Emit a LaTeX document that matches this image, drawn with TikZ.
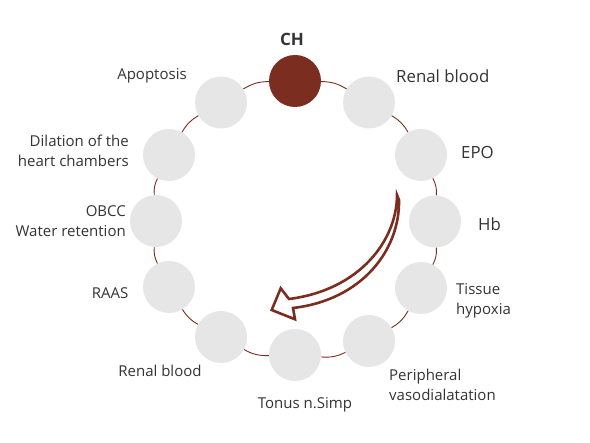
\documentclass[tikz,border=0pt]{standalone}
\usepackage{fontspec}
\setmainfont{Open Sans}
\definecolor{brn}{HTML}{7B2D1F}
\definecolor{gry}{HTML}{E6E6E6}
\definecolor{txt}{HTML}{333333}
\begin{document}
\begin{tikzpicture}[x=1pt,y=-1pt,
  dot/.style={circle,fill=gry,minimum size=52pt,inner sep=0pt},
  hot/.style={circle,fill=brn,minimum size=52pt,inner sep=0pt},
  lbl/.style={text=txt,font=\fontsize{15}{20}\selectfont,inner sep=0pt},
  biglbl/.style={lbl,font=\fontsize{16.8}{20}\selectfont},
  ring/.style={draw=brn,line width=0.9pt},
  bigarrow/.style={draw=brn,line width=2.6pt,line join=miter}]
\useasboundingbox (0,0) rectangle (590,443);
% nodes
\node[hot] (CH)   at (295,81) {};
\node[dot] (RB1)  at (369,102.5) {};
\node[dot] (EPO)  at (421,155) {};
\node[dot] (Hb)   at (435,221.5) {};
\node[dot] (TH)   at (421,288) {};
\node[dot] (PV)   at (369,341) {};
\node[dot] (TN)   at (295,355) {};
\node[dot] (RB2)  at (221,337) {};
\node[dot] (RAAS) at (169,287) {};
\node[dot] (OBCC) at (156,221) {};
\node[dot] (DIL)  at (169,155) {};
\node[dot] (APO)  at (221,102.5) {};
% ring connectors
\draw[ring] (CH) to[bend left=15] (RB1);
\draw[ring] (RB1) to[bend left=15] (EPO);
\draw[ring] (EPO) to[bend left=15] (Hb);
\draw[ring] (Hb) to[bend left=15] (TH);
\draw[ring] (TH) to[bend left=15] (PV);
\draw[ring] (PV) to[bend left=15] (TN);
\draw[ring] (TN) to[bend left=15] (RB2);
\draw[ring] (RB2) to[bend left=15] (RAAS);
\draw[ring] (RAAS) to[bend left=15] (OBCC);
\draw[ring] (OBCC) to[bend left=15] (DIL);
\draw[ring] (DIL) to[bend left=15] (APO);
\draw[ring] (APO) to[bend left=15] (CH);
% labels
\node[lbl,font=\fontsize{17}{20}\selectfont\bfseries] (lCH) at (292,39) {CH};
\node[biglbl,anchor=west] (lRB1) at (396,76) {Renal blood};
\node[biglbl,anchor=west] (lEPO) at (461,152) {EPO};
\node[biglbl,anchor=west] (lHb) at (478,224) {Hb};
\node[lbl,anchor=west,align=left] (lTH) at (456,301) {Tissue\\ hypoxia};
\node[lbl,anchor=west,align=left] (lPV) at (389,385) {Peripheral\\vasodialatation};
\node[lbl] (lTN) at (305,405) {Tonus n.Simp};
\node[lbl] (lRB2) at (160,371) {Renal blood};
\node[lbl] (lRAAS) at (110,293) {RAAS};
\node[lbl,anchor=east,align=right] (lOBCC) at (126,221) {OBCC\\Water retention};
\node[lbl,anchor=east,align=right] (lDIL) at (129,151) {Dilation of the\\heart chambers};
\node[lbl] (lAPO) at (152,76) {Apoptosis};
% big hollow arrow
\draw[bigarrow] (397,195) .. controls (397,240) and (360,290) .. (289,299)
  -- (280.7,288.3) -- (271.7,310) -- (295,319.3) -- (293,308)
  .. controls (362,300) and (400,250) .. (399,200) -- cycle;
\end{tikzpicture}
\end{document}
